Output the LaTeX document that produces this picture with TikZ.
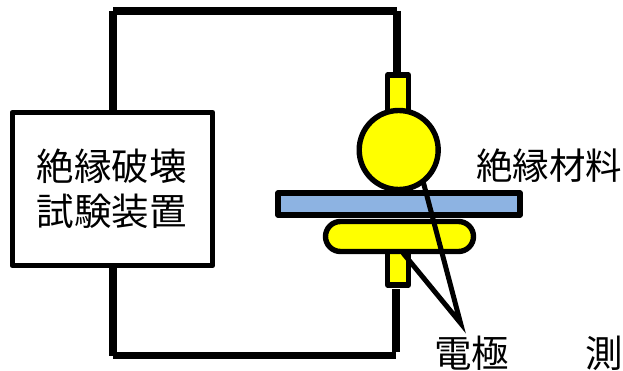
\documentclass[tikz,border=0pt]{standalone}
\usepackage{fontspec}
\setmainfont{Noto Sans CJK JP}
\usetikzlibrary{calc}
\tikzset{
  part/.style={draw=black,line width=5.4pt,line join=round,inner sep=0pt,outer sep=0pt},
  wire/.style={draw=black,line width=7.8pt},
  pointer/.style={draw=black,line width=5pt,line join=miter},
  label/.style={inner sep=0pt,outer sep=0pt,font=\fontsize{37.5}{37.5}\selectfont,text=black}
}
\definecolor{elec}{RGB}{255,255,0}
\definecolor{ins}{RGB}{141,179,226}
\begin{document}
\begin{tikzpicture}[x=1pt,y=-1pt]
\useasboundingbox (0,0) rectangle (623,371);
\clip (0,0) rectangle (623,371);
% free corners of the circuit
\coordinate (tl) at (113,11);
\coordinate (tr) at (397,11);
\coordinate (bl) at (113,355.5);
\coordinate (br) at (396,355.5);
\coordinate (ptip) at (460.5,323);
% apparatus
\node[part,fill=white,minimum width=200.5pt,minimum height=153pt] (device) at (112.5,189) {};
\node[part,fill=elec,minimum width=21pt,minimum height=46pt] (upstem) at (398,98) {};
\node[part,fill=elec,minimum width=21pt,minimum height=36pt] (lowstem) at (398,267) {};
\node[part,fill=elec,circle,minimum size=79pt] (ball) at (398.7,150) {};
\node[part,fill=ins,minimum width=242pt,minimum height=22pt] (sheet) at (399,204) {};
\node[part,fill=elec,rounded corners=15pt,minimum width=148pt,minimum height=30pt] (pill) at (399.5,236.5) {};
% wires
\draw[wire] (device.north -| tl) -- (tl);
\draw[wire] (tl) -- (tr);
\draw[wire] (tr) -- (upstem.north -| tr);
\draw[wire] (device.south -| bl) -- (bl);
\draw[wire] (bl) -- (br);
\draw[wire] ([yshift=3.5pt]br) -- (396,289);
% pointers
\draw[pointer] (ball.-52) -- (ptip) -- (403,253);
% texts
\node[label] (t1) at (111.5,166) {絶縁破壊};
\node[label] (t2) at (111.5,211) {試験装置};
\node[label,font=\fontsize{36.5}{36.5}\selectfont] (t3) at (549,166) {絶縁材料};
\node[label] (t4) at (471.5,353) {電極};
\node[label,anchor=west] (t5) at (585,353) {測};
\end{tikzpicture}
\end{document}
